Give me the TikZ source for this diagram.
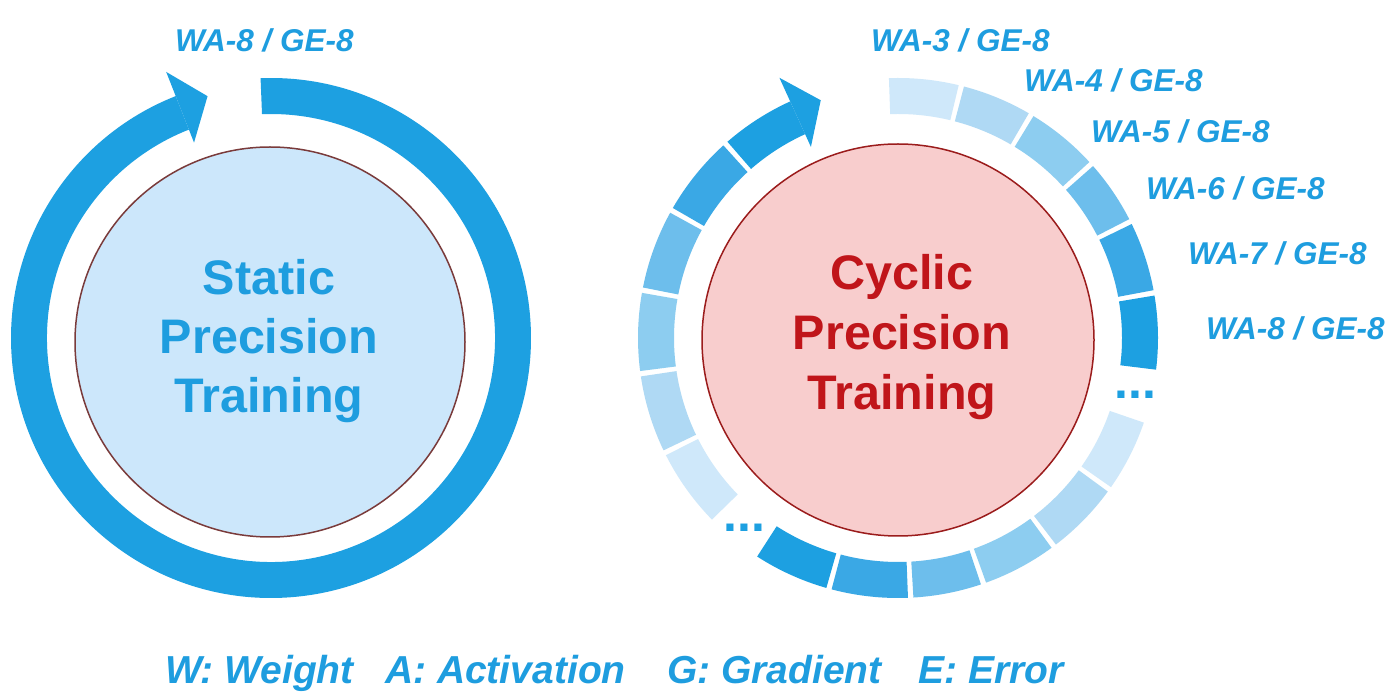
\documentclass[tikz,border=0pt]{standalone}
\usepackage{fontspec}
\setmainfont{Liberation Sans}
\definecolor{ringblue}{HTML}{1DA0E1}
\definecolor{txtblue}{HTML}{1E9DDF}
\definecolor{lvlthree}{HTML}{CFE8FA}
\definecolor{lvlfour}{HTML}{AFD9F4}
\definecolor{lvlfive}{HTML}{8DCDF0}
\definecolor{lvlsix}{HTML}{6DBEEC}
\definecolor{lvlseven}{HTML}{3AA8E5}
\definecolor{lvleight}{HTML}{1DA0E1}
\definecolor{staticfill}{HTML}{CCE7FB}
\definecolor{staticline}{HTML}{7A3B3B}
\definecolor{cyclicfill}{HTML}{F8CDCD}
\definecolor{cyclicline}{HTML}{9B1C1C}
\definecolor{cyclictext}{HTML}{C0151A}
\newcommand{\ringseg}[3]{\fill[#3] (#1:260pt) arc[start angle=#1, end angle=#2, radius=260pt] -- (#2:224pt) arc[start angle=#2, end angle=#1, radius=224pt] -- cycle;}
\newcommand{\arrowhd}[3]{\fill[#3] (#1:286pt) -- (#2:250pt) -- (#1:210pt) -- cycle;}
\begin{document}
\begin{tikzpicture}[x=1pt, y=1pt,
  lbl/.style={text=txtblue, font=\fontsize{31.5}{36}\selectfont\bfseries\itshape, anchor=base west, inner sep=0pt},
  legend/.style={text=txtblue, font=\fontsize{39}{44}\selectfont\bfseries\itshape, anchor=base west, inner sep=0pt},
  bigtxt/.style={font=\fontsize{48.5}{58}\selectfont\bfseries, anchor=base, inner sep=0pt},
  dotsty/.style={text=ringblue, font=\fontsize{50}{56}\selectfont\bfseries, anchor=base, inner sep=0pt},
  disc/.style={circle, line width=1.5pt, inner sep=0pt}]
\useasboundingbox (0,0) rectangle (1400,699);
\fill[white] (0,0) rectangle (1400,699);

% ---------- left: static precision ----------
\begin{scope}[shift={(271,361)}]
  \ringseg{92.3}{-248.5}{ringblue}
  \arrowhd{111.5}{104.7}{ringblue}
\end{scope}
\node[disc, fill=staticfill, draw=staticline, minimum size=390pt] (staticc) at (270,357) {};
\node[bigtxt, text=txtblue] (st1) at (269,404) {Static};
\node[bigtxt, text=txtblue] (st2) at (269,345) {Precision};
\node[bigtxt, text=txtblue] (st3) at (269,286) {Training};
\node[lbl] (lblleft) at (175,647) {WA-8 / GE-8};

% ---------- right: cyclic precision ----------
\begin{scope}[shift={(898,361)}]
  \ringseg{92}{76.5}{lvlthree}
  \ringseg{75.3}{59.8}{lvlfour}
  \ringseg{58.6}{42.6}{lvlfive}
  \ringseg{41.4}{27.2}{lvlsix}
  \ringseg{26}{10.6}{lvlseven}
  \ringseg{9.4}{-7}{lvleight}
  \ringseg{-19}{-35}{lvlthree}
  \ringseg{-36.2}{-52.6}{lvlfour}
  \ringseg{-53.8}{-70.2}{lvlfive}
  \ringseg{-71.4}{-86.6}{lvlsix}
  \ringseg{-87.8}{-104.8}{lvlseven}
  \ringseg{-106}{-122.8}{lvleight}
  \ringseg{-135.7}{-153.2}{lvlthree}
  \ringseg{-154.4}{-171.5}{lvlfour}
  \ringseg{-172.7}{-190}{lvlfive}
  \ringseg{-191.2}{-208.8}{lvlsix}
  \ringseg{-210}{-227.8}{lvlseven}
  \ringseg{-229}{-245.5}{lvleight}
  \arrowhd{114.5}{108}{lvleight}
\end{scope}
\node[disc, fill=cyclicfill, draw=cyclicline, minimum size=392pt] (cyclicc) at (898,359) {};
\node[bigtxt, text=cyclictext] (cy1) at (902,409) {Cyclic};
\node[bigtxt, text=cyclictext] (cy2) at (902,349) {Precision};
\node[bigtxt, text=cyclictext] (cy3) at (902,289) {Training};
\node[dotsty] (dotsright) at (1135.5,300) {...};
\node[dotsty] (dotsleft) at (744.5,167) {...};
\node[lbl] (lblthree) at (871,647) {WA-3 / GE-8};
\node[lbl] (lblfour) at (1024,607) {WA-4 / GE-8};
\node[lbl] (lblfive) at (1091,556) {WA-5 / GE-8};
\node[lbl] (lblsix) at (1146,499) {WA-6 / GE-8};
\node[lbl] (lblseven) at (1188,434) {WA-7 / GE-8};
\node[lbl] (lbleight) at (1206,359) {WA-8 / GE-8};

% ---------- legend ----------
\node[legend] (legw) at (165,16) {W: Weight};
\node[legend] (lega) at (385,16) {A: Activation};
\node[legend] (legg) at (667,16) {G: Gradient};
\node[legend] (lege) at (918,16) {E: Error};
\end{tikzpicture}
\end{document}
